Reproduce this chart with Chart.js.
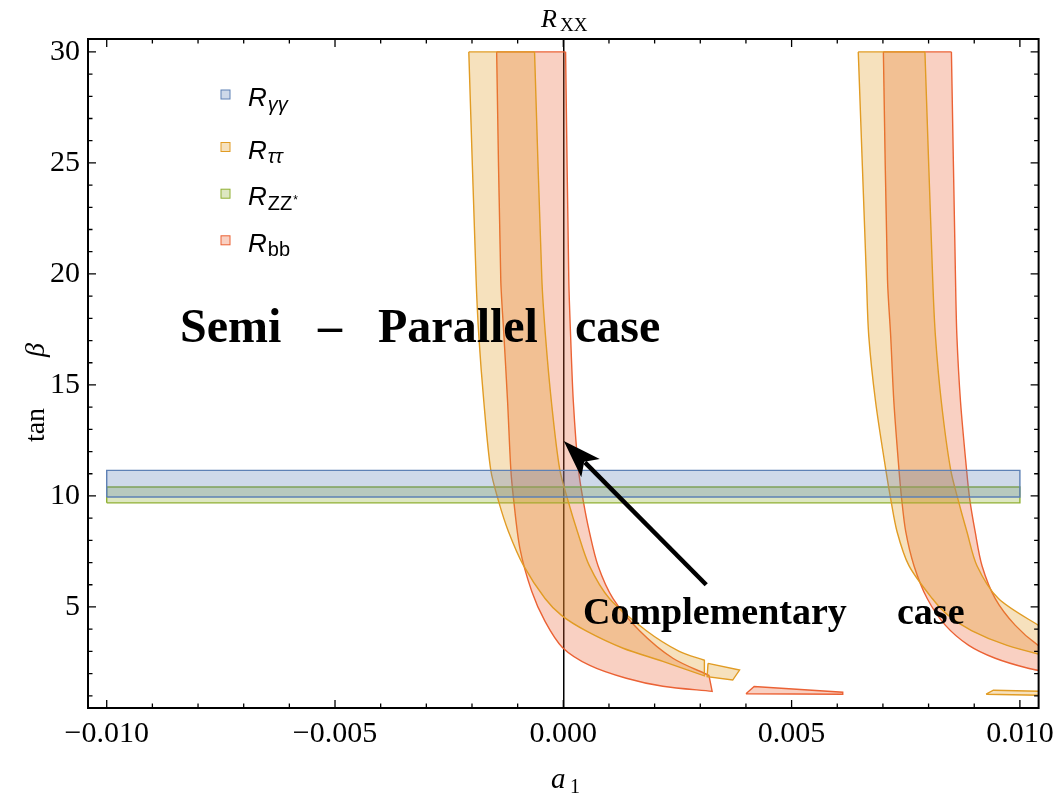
<!DOCTYPE html>
<html>
<head>
<meta charset="utf-8">
<script src="https://cdn.jsdelivr.net/npm/chart.js"></script>
<style>
  html, body { margin: 0; padding: 0; background: #fff; }
</style>
</head>
<body>
<canvas id="chart" width="1062" height="798"></canvas>
<script>
// ---- datos (a1, tan β) ----
const seriesNames = ['γγ', 'ττ', 'ZZ', 'bb'];
const seriesColors = ['#5e81b5', '#e19c24', '#8fb032', '#eb6235'];

// bandas horizontales
const bandX = [-0.01, 0.01];
const gammaY = [9.95, 11.15];
const zzY = [9.69, 10.40];

// R_ττ, rama izquierda: borde exterior (abajo/izq.) e interior (arriba/der.)
const tauLeftOuter = [[-0.00207, 30], [-0.00191, 19.76], [-0.00185, 17.2], [-0.00174, 14.23], [-0.00159, 11.18],
  [-0.00142, 9.78], [-0.00120, 8.39], [-0.00087, 6.86], [-0.00040, 5.38], [-0.00004, 4.62], [0.00051, 3.91],
  [0.00131, 3.14], [0.00218, 2.55], [0.00309, 1.90]];
const tauLeftInner = [[-0.00063, 30], [-0.00047, 19.76], [-0.00039, 17.2], [-0.00026, 14.23], [-0.00008, 11.22],
  [0.00011, 9.74], [0.00031, 8.39], [0.00057, 6.86], [0.00101, 5.38], [0.00182, 3.93], [0.00254, 3.0],
  [0.00309, 2.6]];
const tauLeftPiece = [[0.00317, 2.46], [0.00386, 2.16], [0.00371, 1.71], [0.00315, 1.86]];

// R_bb, rama izquierda
const bbLeftOuter = [[-0.00146, 30], [-0.00137, 19.76], [-0.00130, 17.2], [-0.00122, 14.23], [-0.00115, 11.22],
  [-0.00109, 9.87], [-0.00095, 7.63], [-0.00069, 5.70], [-0.00040, 4.35], [-0.00002, 3.18], [0.00058, 2.37],
  [0.00138, 1.79], [0.00218, 1.43], [0.00326, 1.20]];
const bbLeftInner = [[0.00005, 30], [0.00012, 19.76], [0.00016, 17.2], [0.00022, 14.23], [0.00033, 11.22],
  [0.00044, 9.74], [0.00057, 8.39], [0.00076, 6.86], [0.00109, 5.38], [0.00167, 3.93], [0.00240, 2.69],
  [0.00319, 1.92]];
const bbPiece = [[0.00400, 1.09], [0.00418, 1.42], [0.00612, 1.16], [0.00612, 1.07]];

// rama derecha
const tauRightOuter = [[0.00646, 30], [0.00664, 19.76], [0.00669, 17.2], [0.00684, 14.23], [0.00706, 11.22],
  [0.00717, 9.87], [0.00731, 8.39], [0.00757, 6.86], [0.00808, 5.38], [0.00843, 4.62], [0.00894, 3.94],
  [0.00972, 3.27], [0.01077, 2.69]];
const tauRightInner = [[0.00792, 30], [0.00809, 19.76], [0.00815, 17.2], [0.00828, 14.23], [0.00848, 11.22],
  [0.00867, 9.65], [0.00884, 8.39], [0.00906, 6.86], [0.00953, 5.38], [0.01041, 4.17], [0.01077, 3.76]];
const tauRightPiece = [[0.00926, 1.07], [0.00942, 1.25], [0.0106, 1.2], [0.0106, 1.02]];

const bbRightOuter = [[0.00701, 30], [0.00710, 19.76], [0.00717, 17.2], [0.00724, 14.23], [0.00735, 11.22],
  [0.00741, 9.87], [0.00750, 8.39], [0.00768, 6.86], [0.00797, 5.38], [0.00837, 4.17], [0.00888, 3.27],
  [0.00946, 2.69], [0.01018, 2.24], [0.01077, 2.01]];
const bbRightInner = [[0.00850, 30], [0.00859, 19.76], [0.00862, 17.2], [0.00870, 14.23], [0.00883, 11.22],
  [0.00890, 9.87], [0.00902, 8.39], [0.00917, 6.86], [0.00946, 5.38], [0.00990, 4.17], [0.01040, 3.27],
  [0.01077, 2.91]];

// flecha: desde la etiqueta hasta el punto señalado
const arrowFrom = [0.00313, 6.0];
const arrowTo = [0.00001, 12.47];

// ---- utilidades ----
function alpha(hex, a) {
  const n = parseInt(hex.slice(1), 16);
  return `rgba(${n >> 16}, ${(n >> 8) & 255}, ${n & 255}, ${a})`;
}
const toPts = arr => arr.map(([x, y]) => ({x, y}));
// banda: borde exterior hacia abajo y el interior de vuelta. El camino queda
// abierto arriba (el relleno lo cierra recto y el borde se traza aparte) y las
// esquinas del corte inferior se repiten para que la curva no se pase de largo.
function band(outer, inner) {
  const o = outer[outer.length - 1], i = inner[inner.length - 1];
  return toPts(outer.concat([o, i], inner.slice().reverse()));
}
function poly(pts) {
  return toPts(pts.concat([pts[0]]));
}
function rect(xr, yr) {
  return poly([[xr[0], yr[0]], [xr[1], yr[0]], [xr[1], yr[1]], [xr[0], yr[1]]]);
}
function region(data, c, tension = 0) {
  return {
    data, showLine: true, fill: 'shape', tension,
    borderColor: seriesColors[c], backgroundColor: alpha(seriesColors[c], 0.3),
    borderWidth: 1.4, pointRadius: 0, pointHoverRadius: 0
  };
}
function edge(outer, inner, c) {
  return {
    data: toPts([outer[0], inner[0]]), showLine: true, fill: false, tension: 0,
    borderColor: seriesColors[c], borderWidth: 1.4, pointRadius: 0, pointHoverRadius: 0
  };
}
const isMajor = (v, step) => Math.abs(v / step - Math.round(v / step)) < 1e-6;

// ticks hacia dentro en los cuatro lados, como en Mathematica
const frameTicks = {
  id: 'frameTicks',
  afterDraw(chart) {
    const {ctx, chartArea: a, scales: {x, y}} = chart;
    ctx.save();
    ctx.strokeStyle = '#000';
    ctx.lineWidth = 1.3;
    ctx.beginPath();
    x.ticks.forEach(t => {
      const px = x.getPixelForValue(t.value);
      const len = isMajor(t.value, 0.005) ? 8 : 4.5;
      ctx.moveTo(px, a.bottom); ctx.lineTo(px, a.bottom - len);
      ctx.moveTo(px, a.top); ctx.lineTo(px, a.top + len);
    });
    y.ticks.forEach(t => {
      const py = y.getPixelForValue(t.value);
      const len = isMajor(t.value, 5) ? 8 : 4.5;
      ctx.moveTo(a.left, py); ctx.lineTo(a.left + len, py);
      ctx.moveTo(a.right, py); ctx.lineTo(a.right - len, py);
    });
    ctx.stroke();
    ctx.lineWidth = 2;
    ctx.strokeRect(a.left, a.top, a.right - a.left, a.bottom - a.top);
    ctx.restore();
  }
};

// textos, leyenda y flecha
const overlay = {
  id: 'overlay',
  afterDraw(chart) {
    const {ctx, scales: {x, y}} = chart;
    ctx.save();
    ctx.fillStyle = '#000';
    ctx.textBaseline = 'alphabetic';

    // flecha
    const x0 = x.getPixelForValue(arrowFrom[0]), y0 = y.getPixelForValue(arrowFrom[1]);
    const x1 = x.getPixelForValue(arrowTo[0]), y1 = y.getPixelForValue(arrowTo[1]);
    const ang = Math.atan2(y1 - y0, x1 - x0);
    const c = Math.cos(ang), s = Math.sin(ang);
    const hl = 38, hw = 13;
    const bx = x1 - hl * c, by = y1 - hl * s;
    ctx.strokeStyle = '#000';
    ctx.lineWidth = 4.5;
    ctx.beginPath();
    ctx.moveTo(x0, y0);
    ctx.lineTo(bx + 8 * c, by + 8 * s);
    ctx.stroke();
    ctx.beginPath();
    ctx.moveTo(x1, y1);
    ctx.lineTo(bx - hw * s, by + hw * c);
    ctx.lineTo(bx + 9 * c, by + 9 * s);
    ctx.lineTo(bx + hw * s, by - hw * c);
    ctx.closePath();
    ctx.fill();

    // anotaciones
    ctx.font = 'bold 48px "Liberation Serif"';
    ctx.fillText('Semi', 180, 342);
    ctx.fillText('\u2013', 318, 342);
    ctx.fillText('Parallel', 378, 342);
    ctx.fillText('case', 575, 342);
    ctx.font = 'bold 38px "Liberation Serif"';
    ctx.fillText('Complementary', 583, 624);
    ctx.fillText('case', 897, 624);

    // título superior R_XX
    ctx.font = 'italic 26px "Liberation Serif"';
    ctx.fillText('R', 541, 27);
    ctx.font = '19px "Liberation Serif"';
    ctx.fillText('XX', 560, 31);

    // títulos de ejes
    ctx.font = 'italic 29px "Liberation Serif"';
    ctx.fillText('a', 551, 788);
    ctx.font = '20px "Liberation Serif"';
    ctx.fillText('1', 570, 793);
    ctx.save();
    ctx.translate(44, 392);
    ctx.rotate(-Math.PI / 2);
    ctx.textAlign = 'center';
    ctx.font = '28px "Liberation Serif"';
    ctx.fillText('tan', -33, 0);
    ctx.font = 'italic 28px "Liberation Serif"';
    ctx.fillText('\u03b2', 42, 0);
    ctx.restore();

    // leyenda
    const rows = [94.5, 147, 193.7, 240.3];
    seriesNames.forEach((name, i) => {
      const cy = rows[i];
      ctx.fillStyle = alpha(seriesColors[i], 0.3);
      ctx.fillRect(221, cy - 4.5, 9, 9);
      ctx.strokeStyle = seriesColors[i];
      ctx.lineWidth = 1;
      ctx.strokeRect(221, cy - 4.5, 9, 9);
      ctx.fillStyle = '#000';
      ctx.font = 'italic 26px "Liberation Sans"';
      ctx.fillText('R', 248, cy + 11.5);
      const w = ctx.measureText('R').width;
      const greek = i < 2;
      ctx.font = (greek ? 'italic ' : '') + '20px "Liberation Sans"';
      ctx.fillText(name, 248 + w + 1, cy + 16);
      if (name === 'ZZ') {
        const w2 = ctx.measureText(name).width;
        ctx.font = '12px "Liberation Sans"';
        ctx.fillText('*', 248 + w + 2 + w2, cy + 10);
      }
    });
    ctx.restore();
  }
};

const T = 0.3;
const datasets = [
  region(rect(bandX, gammaY), 0),
  region(band(tauLeftOuter, tauLeftInner), 1, T),
  edge(tauLeftOuter, tauLeftInner, 1),
  region(poly(tauLeftPiece), 1),
  region(band(tauRightOuter, tauRightInner), 1, T),
  edge(tauRightOuter, tauRightInner, 1),
  region(poly(tauRightPiece), 1),
  region(rect(bandX, zzY), 2),
  region(band(bbLeftOuter, bbLeftInner), 3, T),
  edge(bbLeftOuter, bbLeftInner, 3),
  region(poly(bbPiece), 3),
  region(band(bbRightOuter, bbRightInner), 3, T),
  edge(bbRightOuter, bbRightInner, 3)
];

new Chart(document.getElementById('chart'), {
  type: 'scatter',
  data: { datasets },
  options: {
    responsive: false,
    animation: false,
    events: [],
    layout: { padding: { top: 39, right: 18, left: 0, bottom: 0 } },
    plugins: { legend: { display: false }, tooltip: { enabled: false } },
    scales: {
      x: {
        type: 'linear',
        min: -0.01041, max: 0.01041,
        z: 1,
        afterFit: s => { s.height = 90; },
        border: { display: true, color: '#000', width: 2 },
        grid: {
          drawTicks: false, drawOnChartArea: true,
          color: c => (c.tick && Math.abs(c.tick.value) < 1e-9) ? '#000' : 'rgba(0,0,0,0)',
          lineWidth: c => (c.tick && Math.abs(c.tick.value) < 1e-9) ? 1.5 : 0
        },
        ticks: {
          stepSize: 0.001, autoSkip: false, includeBounds: false, maxRotation: 0,
          padding: 8, color: '#000',
          font: { family: '"Liberation Serif"', size: 30 },
          callback: v => {
            if (!isMajor(v, 0.005)) return '';
            if (Math.abs(v) < 1e-9) return '0.000';
            return (v < 0 ? '\u2212' : '') + Math.abs(v).toFixed(3);
          }
        }
      },
      y: {
        type: 'linear',
        min: 0.45, max: 30.58,
        afterFit: s => { s.width = 88; },
        border: { display: true, color: '#000', width: 2 },
        grid: { display: false, drawTicks: false },
        ticks: {
          stepSize: 1, autoSkip: false, includeBounds: false,
          padding: 8, color: '#000',
          font: { family: '"Liberation Serif"', size: 30 },
          callback: v => isMajor(v, 5) ? String(v) : ''
        }
      }
    }
  },
  plugins: [frameTicks, overlay]
});
</script>
</body>
</html>
